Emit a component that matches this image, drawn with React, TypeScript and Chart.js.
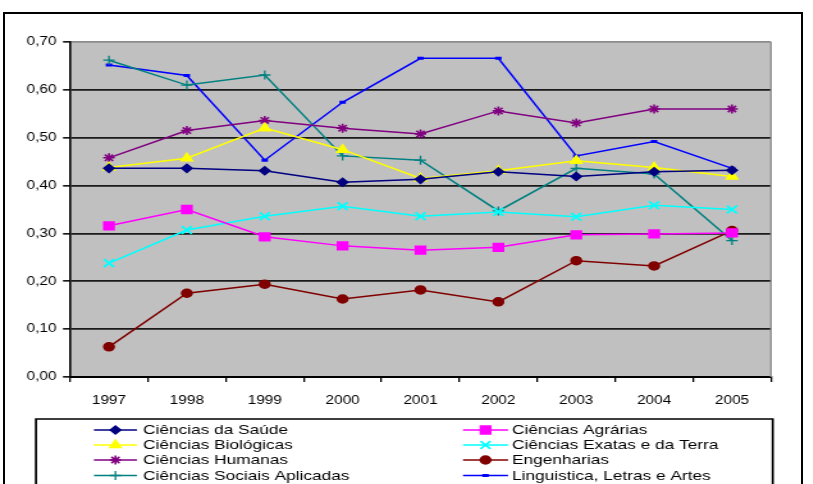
import React, { useEffect, useRef } from 'react';
import { Chart, registerables } from 'chart.js';
import { drawPoint } from 'chart.js/helpers';

Chart.register(...registerables);

const years = ['1997', '1998', '1999', '2000', '2001', '2002', '2003', '2004', '2005'];

const saude = [0.436, 0.436, 0.431, 0.407, 0.413, 0.429, 0.419, 0.429, 0.432];
const agrarias = [0.316, 0.35, 0.293, 0.274, 0.265, 0.271, 0.297, 0.299, 0.301];
const biologicas = [0.438, 0.457, 0.52, 0.475, 0.415, 0.431, 0.452, 0.438, 0.419];
const exatas = [0.238, 0.307, 0.336, 0.357, 0.336, 0.345, 0.335, 0.359, 0.35];
const humanas = [0.458, 0.515, 0.536, 0.52, 0.508, 0.556, 0.531, 0.56, 0.56];
const engenharias = [0.063, 0.175, 0.194, 0.163, 0.182, 0.157, 0.243, 0.232, 0.306];
const sociais = [0.662, 0.61, 0.631, 0.462, 0.453, 0.347, 0.436, 0.424, 0.285];
const linguistica = [0.652, 0.63, 0.453, 0.574, 0.666, 0.666, 0.462, 0.492, 0.436];

const seriesNames = [
  'Ciências da Saúde',
  'Ciências Agrárias',
  'Ciências Biológicas',
  'Ciências Exatas e da Terra',
  'Ciências Humanas',
  'Engenharias',
  'Ciências Sociais Aplicadas',
  'Linguistica, Letras e Artes',
];

const S = 1.28; // horizontal stretch of the original picture
const W = 635;
const H = 484;
const FONT = "'Liberation Sans', Arial, sans-serif";

const L = {
  plotLeft: 54.7,
  plotRight: 602.3,
  plotTop: 42,
  plotBottom: 377,
  legendBox: { l: 28.1, t: 419, r: 603.7, b: 520 },
  legendCols: [
    { l1: 73.4, l2: 107, m: 90.2, t: 111.7 },
    { l1: 361.7, l2: 396.9, m: 379.3, t: 400 },
  ],
  legendRows: [430, 445, 460, 475.5],
};

function box(ctx: any, b: { l: number; t: number; r: number; b: number }, lw: number) {
  ctx.save();
  ctx.strokeStyle = '#000';
  ctx.lineWidth = lw;
  ctx.beginPath();
  ctx.moveTo(b.l, b.b);
  ctx.lineTo(b.l, b.t);
  ctx.lineTo(b.r, b.t);
  ctx.lineTo(b.r, b.b);
  ctx.stroke();
  ctx.restore();
}

const bgPlugin = {
  id: 'bgPlugin',
  beforeDraw(chart: any) {
    const { ctx, chartArea } = chart;
    ctx.save();
    ctx.fillStyle = '#c0c0c0';
    ctx.fillRect(chartArea.left, chartArea.top, chartArea.right - chartArea.left, chartArea.bottom - chartArea.top);
    ctx.restore();
  },
  beforeDatasetsDraw(chart: any) {
    const { ctx, chartArea } = chart;
    ctx.save();
    ctx.strokeStyle = '#8c8c8c';
    ctx.lineWidth = 1.3;
    ctx.beginPath();
    ctx.moveTo(chartArea.right, chartArea.top);
    ctx.lineTo(chartArea.right, chartArea.bottom);
    ctx.stroke();
    ctx.restore();
  },
};

const legendPlugin = {
  id: 'legendPlugin',
  afterDraw(chart: any) {
    const { ctx } = chart;
    box(ctx, L.legendBox, 1.7);
    ctx.save();
    const ds = chart.data.datasets;
    ds.forEach((d: any, i: number) => {
      const col = L.legendCols[i % 2];
      const y = L.legendRows[Math.floor(i / 2)];
      ctx.strokeStyle = d.borderColor;
      ctx.lineWidth = 1.5;
      ctx.beginPath();
      ctx.moveTo(col.l1, y);
      ctx.lineTo(col.l2, y);
      ctx.stroke();
      ctx.fillStyle = d.pointBackgroundColor;
      ctx.strokeStyle = d.borderColor;
      ctx.lineWidth = d.pointBorderWidth;
      drawPoint(ctx, { pointStyle: d.pointStyle, rotation: 0, radius: d.pointRadius, borderWidth: d.pointBorderWidth }, col.m, y);
      ctx.fillStyle = '#000';
      ctx.font = `13.5px ${FONT}`;
      ctx.textBaseline = 'middle';
      ctx.textAlign = 'left';
      ctx.fillText(d.label, col.t, y + 0.5);
    });
    ctx.restore();
  },
};

function mk(label: string, data: number[], color: string, pointStyle: string, radius: number, pbw = 1.5) {
  return {
    label,
    data,
    borderColor: color,
    backgroundColor: color,
    pointBackgroundColor: color,
    pointBorderColor: color,
    borderWidth: 1.5,
    pointStyle,
    pointRadius: radius,
    pointBorderWidth: pbw,
    tension: 0,
    fill: false,
  };
}

export default function App() {
  const ref = useRef<HTMLCanvasElement | null>(null);
  useEffect(() => {
    document.body.style.margin = '0';
    document.body.style.overflow = 'hidden';
    if (!ref.current) return;
    const chart = new Chart(ref.current, {
      type: 'line',
      data: {
        labels: years,
        datasets: [
          mk(seriesNames[0], saude, '#000080', 'rectRot', 4),
          mk(seriesNames[1], agrarias, '#ff00ff', 'rect', 5.5),
          mk(seriesNames[2], biologicas, '#ffff00', 'triangle', 5),
          mk(seriesNames[3], exatas, '#00ffff', 'crossRot', 5.5, 1.8),
          mk(seriesNames[4], humanas, '#800080', 'star', 4.5, 1.6),
          mk(seriesNames[5], engenharias, '#800000', 'circle', 4),
          mk(seriesNames[6], sociais, '#008080', 'cross', 4.5, 1.3),
          mk(seriesNames[7], linguistica, '#0000ff', 'line', 2.5, 3),
        ] as any,
      },
      options: {
        responsive: false,
        animation: false,
        events: [],
        layout: { padding: { left: 0, right: W - L.plotRight, top: L.plotTop, bottom: H - L.plotBottom - 30 } },
        plugins: { legend: { display: false }, tooltip: { enabled: false } },
        scales: {
          x: {
            type: 'category',
            offset: true,
            grid: { offset: true, drawOnChartArea: false, color: '#000', tickLength: 5, lineWidth: 1.3 },
            border: { color: '#000', width: 2 },
            ticks: { font: { family: FONT, size: 12 }, color: '#000', padding: 11, maxRotation: 0, autoSkip: false },
            afterFit: (s: any) => { s.height = 30; },
          },
          y: {
            min: 0,
            max: 0.7,
            ticks: {
              stepSize: 0.1,
              font: { family: FONT, size: 12 },
              color: '#000',
              padding: 5,
              callback: (v: any) => Number(v).toFixed(2).replace('.', ','),
            },
            grid: {
              color: (c: any) => (c.tick && c.tick.value > 0.69 ? '#8c8c8c' : '#1a1a1a'),
              lineWidth: 1.7,
              tickLength: 5.5,
              tickColor: '#000',
              tickWidth: 1.5,
            },
            border: { color: '#000', width: 1.6 },
            afterFit: (s: any) => { s.width = L.plotLeft; },
          },
        },
      } as any,
      plugins: [bgPlugin, legendPlugin],
    });
    return () => chart.destroy();
  }, []);
  return (
    <div style={{ position: 'relative', width: 813, height: 484, overflow: 'hidden', background: '#fff' }}>
      <div style={{ position: 'absolute', left: 0, top: 0, width: W, height: H, transform: `scaleX(${S})`, transformOrigin: '0 0' }}>
        <canvas ref={ref} width={W} height={H} />
      </div>
      <div
        style={{
          position: 'absolute',
          left: 3,
          top: 12,
          width: 796,
          height: 520,
          border: '2px solid #000',
          pointerEvents: 'none',
        }}
      />
    </div>
  );
}
